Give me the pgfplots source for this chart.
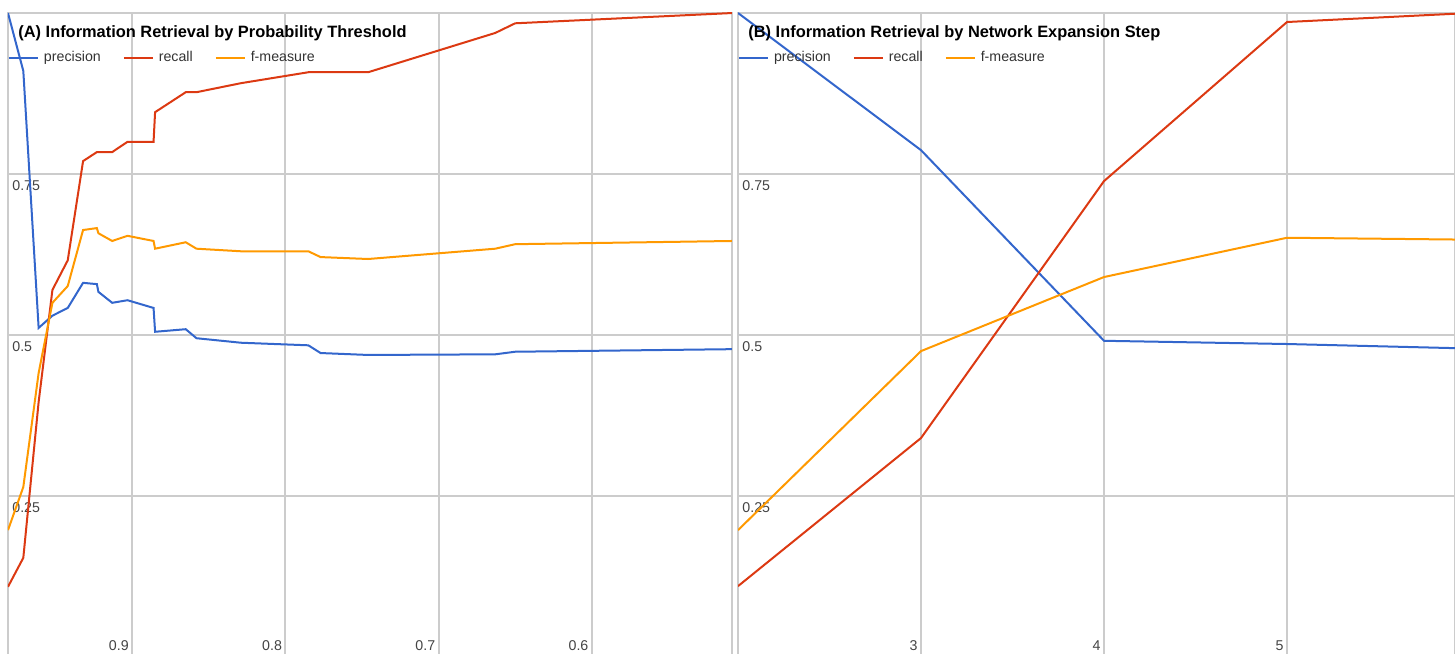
\documentclass[border=0pt]{standalone}
\usepackage{fontspec}
\setmainfont{Liberation Sans}
\usepackage{pgfplots}
\pgfplotsset{compat=1.18}
\definecolor{gblue}{HTML}{3366CC}
\definecolor{gred}{HTML}{DC3912}
\definecolor{gorange}{HTML}{FF9900}
\definecolor{ggrid}{HTML}{CCCCCC}
\definecolor{glabel}{HTML}{444444}
\newcommand\tfont{\fontsize{7.1}{8.5}\selectfont}
\newcommand\hfont{\bfseries\fontsize{8.2}{9.5}\selectfont}
\pgfplotsset{
  gstyle/.style={
    scale only axis,
    height=322pt,
    ymin=0, ymax=1,
    ytick={0.25,0.5,0.75},
    yticklabels={0.25,0.5,0.75},
    grid=major,
    major grid style={ggrid, line width=1pt},
    axis line style={ggrid, line width=1pt},
    major tick length=0pt,
    tick style={draw=none},
    yticklabel style={anchor=north west, font=\tfont, text=glabel, inner sep=0pt, xshift=2pt, yshift=-3pt},
    xticklabel style={anchor=south east, font=\tfont, text=glabel, inner sep=0pt, xshift=-1.5pt, yshift=3pt},
    every axis plot/.append style={line width=1pt, mark=none},
    legend columns=3,
    legend style={at={(0,1)}, anchor=north west, yshift=-19pt, draw=none, fill=none,
      font=\tfont, inner sep=0pt, outer sep=0pt,
      nodes={inner sep=0pt, text=black!80},
      /tikz/every odd column/.append style={column sep=2.5pt},
      /tikz/every even column/.append style={column sep=11pt}},
    legend image code/.code={\draw[##1, line width=1pt] (0pt,0pt) -- (14.5pt,0pt);},
  }
}
\begin{document}
\begin{tikzpicture}
\useasboundingbox (0,0) rectangle (727.5pt,326.5pt);
\begin{axis}[gstyle, at={(4pt,-2pt)}, anchor=south west, width=362pt,
  x dir=reverse, xmin=0.5085, xmax=0.981,
  xtick={0.6,0.7,0.8,0.9}, xticklabels={0.6,0.7,0.8,0.9}]
\addplot[gblue] coordinates {(0.981,1.0)(0.971,0.910)(0.961,0.511)(0.952,0.530)(0.942,0.542)(0.932,0.581)(0.923,0.579)(0.922,0.567)(0.913,0.550)(0.903,0.554)(0.886,0.542)(0.885,0.505)(0.865,0.509)(0.858,0.495)(0.829,0.488)(0.785,0.484)(0.777,0.472)(0.746,0.469)(0.663,0.470)(0.650,0.474)(0.508,0.478)};
\addlegendentry{precision}
\addplot[gred] coordinates {(0.981,0.109)(0.971,0.154)(0.961,0.396)(0.952,0.570)(0.942,0.616)(0.932,0.770)(0.923,0.784)(0.922,0.784)(0.913,0.784)(0.903,0.800)(0.886,0.800)(0.885,0.846)(0.865,0.877)(0.858,0.877)(0.829,0.891)(0.785,0.908)(0.777,0.908)(0.746,0.908)(0.663,0.969)(0.650,0.984)(0.508,1.0)};
\addlegendentry{recall}
\addplot[gorange] coordinates {(0.981,0.197)(0.971,0.264)(0.961,0.441)(0.952,0.550)(0.942,0.576)(0.932,0.663)(0.923,0.666)(0.922,0.658)(0.913,0.646)(0.903,0.654)(0.886,0.646)(0.885,0.634)(0.865,0.644)(0.858,0.634)(0.829,0.630)(0.785,0.630)(0.777,0.621)(0.746,0.618)(0.663,0.634)(0.650,0.641)(0.508,0.646)};
\addlegendentry{f-measure}
\node[anchor=west, font=\hfont, inner sep=0pt, xshift=5pt, yshift=-10pt] at (axis description cs:0,1) {(A) Information Retrieval by Probability Threshold};
\end{axis}
\begin{axis}[gstyle, at={(369pt,-2pt)}, anchor=south west, width=358.5pt,
  xmin=2, xmax=5.918,
  xtick={3,4,5}, xticklabels={3,4,5}]
\addplot[gblue] coordinates {(2,1.0)(3,0.787)(4,0.491)(5,0.486)(6,0.479)};
\addlegendentry{precision}
\addplot[gred] coordinates {(2,0.110)(3,0.340)(4,0.739)(5,0.986)(6,1.0)};
\addlegendentry{recall}
\addplot[gorange] coordinates {(2,0.197)(3,0.475)(4,0.590)(5,0.651)(6,0.648)};
\addlegendentry{f-measure}
\node[anchor=west, font=\hfont, inner sep=0pt, xshift=5pt, yshift=-10pt] at (axis description cs:0,1) {(B) Information Retrieval by Network Expansion Step};
\end{axis}
\end{tikzpicture}
\end{document}
